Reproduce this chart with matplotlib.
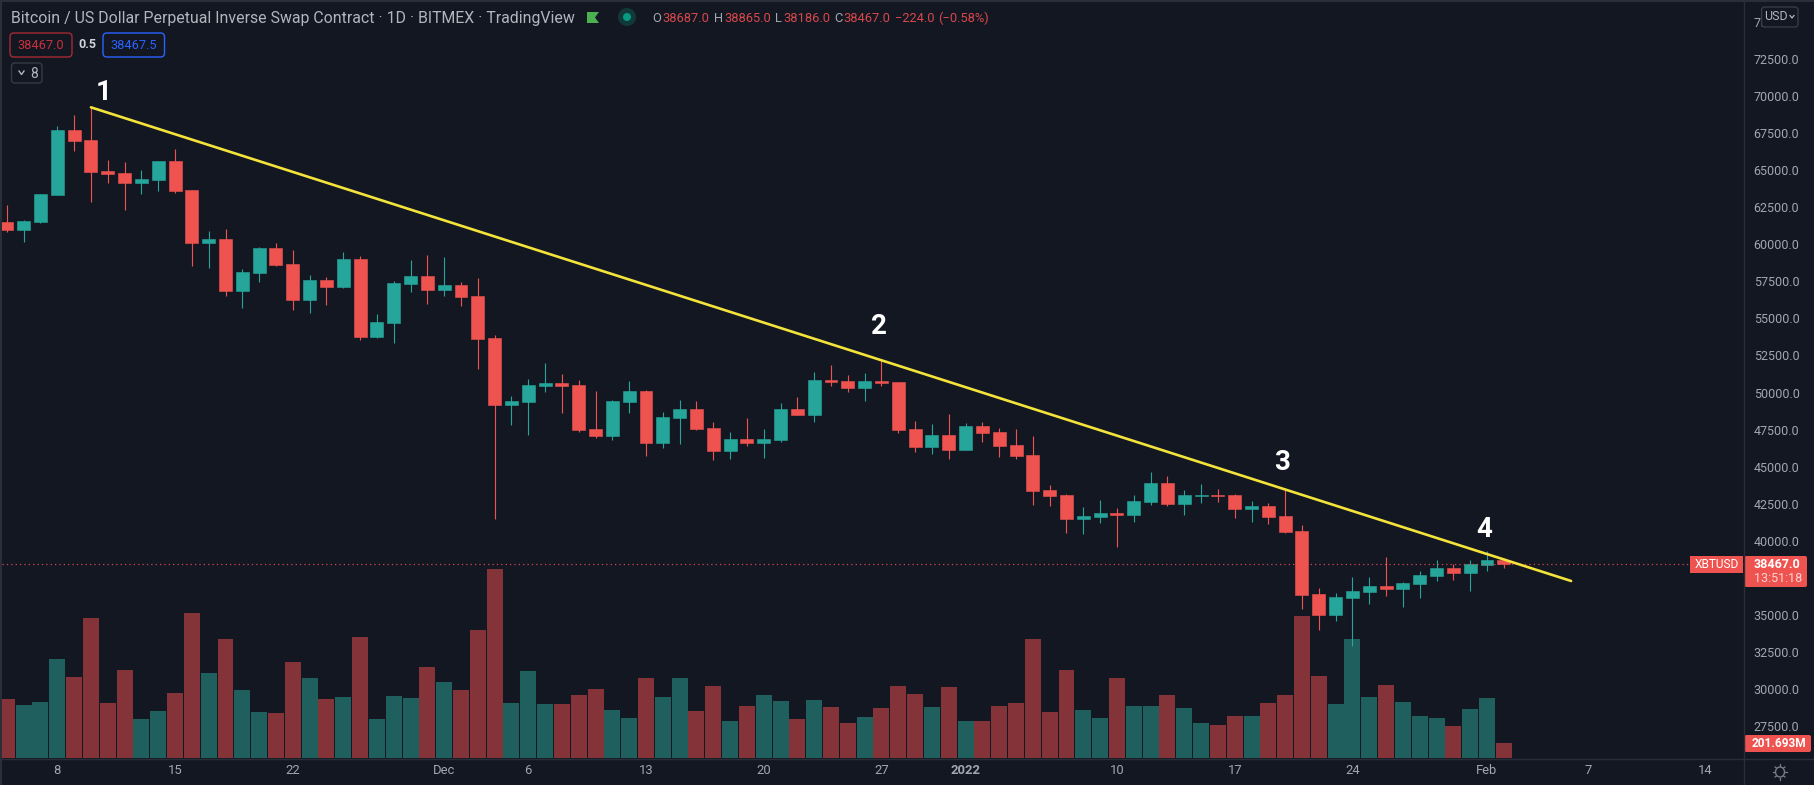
"""
plot.py - BITMEX XBTUSD daily candles with volume and a falling trendline
"""
import matplotlib
matplotlib.use("Agg")
import matplotlib.pyplot as plt
from matplotlib.patches import FancyBboxPatch, Polygon, Ellipse, Rectangle

W, H = 1815, 785
plt.rcParams["font.family"] = ["Roboto", "DejaVu Sans"]

# ── Data: day 0 is 8 Nov 2021 ─────────────────────────────────────
days = list(range(-3, 87))

opens = [61488, 60949, 61488, 63329, 67687, 67013, 64924, 64789, 64116, 64318,
         65598, 63644, 60073, 60342, 56838, 58051, 59736, 58657, 56232, 57580,
         57108, 58994, 53761, 54682, 57310, 57849, 56906, 57243, 56502, 53674,
         49160, 49362, 50440, 50642, 50507, 47543, 47071, 49362, 50103, 46599,
         48284, 48890, 47610, 46060, 46869, 46599, 46801, 48890, 48486, 50844,
         50777, 50305, 50777, 50709, 47543, 46330, 47138, 46128, 47745, 47340,
         46464, 45791, 43432, 43096, 41478, 41613, 41882, 41748, 42624, 43904,
         42489, 43051, 43096, 43096, 42152, 42354, 41680, 40670, 36425, 35010,
         36156, 36560, 36964, 36762, 37099, 37638, 38177, 37840, 38379, 38687]
closes = [60949, 61555, 63374, 67687, 66945, 64857, 64722, 64116, 64385, 65598,
          63577, 60073, 60342, 56838, 58119, 59736, 58590, 56232, 57580, 57108,
          58994, 53761, 54750, 57378, 57849, 56906, 57243, 56434, 53604, 49160,
          49429, 50507, 50642, 50440, 47475, 47071, 49429, 50103, 46599, 48351,
          48890, 47543, 46060, 46869, 46599, 46869, 48890, 48486, 50844, 50709,
          50305, 50777, 50642, 47475, 46330, 47138, 46128, 47745, 47273, 46397,
          45723, 43365, 43028, 41478, 41680, 41882, 41748, 42691, 43904, 42489,
          43096, 43096, 43051, 42152, 42354, 41613, 40602, 36358, 35010, 36223,
          36627, 36964, 36762, 37166, 37705, 38177, 37840, 38446, 38716, 38467]
highs = [62633, 61622, 63374, 67956, 68697, 69214, 65665, 65508, 64991, 65598,
         66406, 63644, 60881, 61016, 58298, 59826, 60073, 59601, 57916, 57759,
         59466, 59174, 55288, 57512, 58927, 59264, 59129, 57445, 57714, 53876,
         49766, 50912, 51990, 51248, 50844, 50103, 49497, 50777, 50170, 48666,
         49497, 49429, 48014, 47340, 48284, 47543, 49295, 49699, 51383, 51855,
         51181, 51316, 52192, 50709, 48082, 47880, 48553, 47947, 48014, 47610,
         47543, 47071, 43769, 43163, 42287, 42759, 42220, 43096, 44645, 44376,
         43432, 43837, 43500, 43163, 42691, 42557, 43500, 41074, 36829, 36493,
         37571, 37571, 38918, 37233, 37975, 38716, 38446, 38716, 39322, 38865]
lows = [60836, 60163, 61443, 63329, 66272, 62858, 64138, 62296, 63397, 63577,
        63464, 58523, 58411, 56524, 55715, 57467, 58523, 55558, 55379, 55895,
        57041, 53560, 53694, 53357, 56771, 55962, 56502, 55828, 51583, 41478,
        47812, 47138, 50036, 48621, 47340, 46936, 46801, 48621, 45723, 46262,
        46532, 47475, 45454, 45521, 46397, 45589, 46667, 48486, 48014, 50440,
        50036, 49429, 50440, 47273, 45993, 45858, 45521, 46128, 46667, 45656,
        45521, 42422, 42354, 40535, 40468, 41209, 39592, 41276, 42422, 42354,
        41748, 42557, 42624, 41546, 41276, 41141, 40535, 35414, 33999, 34605,
        32921, 35751, 36290, 35549, 36155, 37301, 37368, 36627, 37975, 38186]

# volume, millions of contracts
volumes = [793, 713, 753, 1331, 1089, 1882, 740, 1183, 524, 632,
           874, 1950, 1143, 1600, 914, 619, 605, 1291, 1076, 793,
           820, 1627, 524, 834, 807, 1224, 1022, 914, 1721, 2541,
           740, 1170, 726, 726, 847, 928, 645, 538, 1076, 820,
           1076, 632, 968, 497, 699, 847, 766, 524, 780, 686,
           471, 551, 672, 968, 861, 686, 955, 497, 497, 699,
           740, 1600, 619, 1183, 645, 538, 1076, 699, 699, 847,
           672, 471, 444, 565, 565, 740, 847, 1909, 1103, 726,
           1600, 820, 982, 753, 565, 538, 430, 659, 807, 201.693]

trend_days = [2, 90]
trend_prices = [69218, 37300]
last_price = 38467

price_ticks = [27500 + 2500 * i for i in range(20)]
date_ticks = [0, 7, 14, 23, 28, 35, 42, 49, 54, 63, 70, 77, 85, 91, 98]
date_labels = ["8", "15", "22", "Dec", "6", "13", "20", "27", "2022",
               "10", "17", "24", "Feb", "7", "14"]

# ── Colours ───────────────────────────────────────────────────────
BG = "#131722"
LINE = "#2a2e39"
GREY = "#a3a6af"
UP = "#26a69a"
DOWN = "#ef5350"
UP_VOL = "#1f5f5e"
DOWN_VOL = "#843438"

# ── Layout: pane runs from x=2 to 1744, y=0 to 758 in pixels ──────
fig = plt.figure(figsize=(W / 100, H / 100), dpi=100, facecolor=BG)
rect = [2 / W, 1 - 758 / H, 1742 / W, 758 / H]

ax_vol = fig.add_axes(rect, facecolor=BG)
ax = fig.add_axes(rect, facecolor="none")
x_range = (-3.288, 100.28)
ax_vol.set_xlim(x_range)
ax_vol.set_ylim(0, 10190)
ax_vol.axis("off")

ax.set_xlim(x_range)
ax.set_ylim(25371, 76449)
for spine in ax.spines.values():
    spine.set_visible(False)

# ── Volume ────────────────────────────────────────────────────────
vol_colors = [UP_VOL if c >= o else DOWN_VOL for o, c in zip(opens, closes)]
ax_vol.bar(days, volumes, width=0.95, color=vol_colors, linewidth=0)

# ── Candles ───────────────────────────────────────────────────────
colors = [UP if c >= o else DOWN for o, c in zip(opens, closes)]
ax.vlines(days, lows, highs, colors=colors, linewidth=0.8, zorder=2)
ax.bar(days, [c - o for o, c in zip(opens, closes)], bottom=opens, width=0.77,
       color=colors, edgecolor=colors, linewidth=0.4, zorder=3)

ax.axhline(last_price, color=DOWN, lw=0.9, ls=(0, (1, 2.5)), alpha=0.85, zorder=4)
ax.plot(trend_days, trend_prices, color="#f3e33b", lw=1.9, zorder=5,
        solid_capstyle="round")

# ── Axes ticks ────────────────────────────────────────────────────
ax.yaxis.tick_right()
ax.set_yticks(price_ticks)
ax.set_yticklabels([f"{p:.1f}" for p in price_ticks], color=GREY, fontsize=9, ha="left")
ax.set_xticks(date_ticks)
ax.set_xticklabels(date_labels, color=GREY, fontsize=9.4)
ax.tick_params(axis="y", length=0, pad=7)
ax.tick_params(axis="x", length=0, pad=4.5)
ax.get_xticklabels()[date_labels.index("2022")].set_fontweight("bold")

# ── Overlay for the window chrome, in pixel coordinates ───────────
ui = fig.add_axes([0, 0, 1, 1], facecolor="none", zorder=10)
ui.set_xlim(0, W)
ui.set_ylim(H, 0)
ui.axis("off")

ui.plot([1744, 1744], [0, H], color=LINE, lw=1)
ui.plot([2, W], [758.5, 758.5], color=LINE, lw=1)
ui.plot([0, W], [0.5, 0.5], color=LINE, lw=1.5)
ui.add_patch(Rectangle((0, 0), 2, H, color=LINE, lw=0))


def label(x, y, text, color=GREY, size=9, ha="left", **kw):
    return ui.text(x, y, text, color=color, fontsize=size, ha=ha, va="center", **kw)


def box(x0, y0, x1, y1, face=BG, edge=LINE, lw=1.0, r=3):
    ui.add_patch(FancyBboxPatch((x0 + r, y0 + r), x1 - x0 - 2 * r, y1 - y0 - 2 * r,
                                boxstyle=f"round,pad={r},rounding_size={r}",
                                facecolor=face, edgecolor=edge, linewidth=lw))


# Header
label(11, 18, "Bitcoin / US Dollar Perpetual Inverse Swap Contract · 1D · BITMEX · TradingView",
      color="#b2b5be", size=11.4)
ui.add_patch(Polygon([(587, 12), (599, 12), (595, 17.5), (599, 23), (587, 23)],
                     facecolor="#4caf50", edgecolor="none"))
ui.add_patch(Ellipse((627, 17), 18, 18, facecolor="#12393a", edgecolor="none"))
ui.add_patch(Ellipse((627, 17), 8, 8, facecolor="#089981", edgecolor="none"))

OHLC_RED = "#d8484b"
for x, text, col in [(652, "O", GREY), (662.5, "38687.0", OHLC_RED),
                     (714, "H", GREY), (724, "38865.0", OHLC_RED),
                     (775, "L", GREY), (783, "38186.0", OHLC_RED),
                     (834, "C", GREY), (843, "38467.0", OHLC_RED),
                     (895, "\u2212224.0", OHLC_RED), (938.5, "(\u22120.58%)", OHLC_RED)]:
    label(x, 18.5, text, color=col, size=9.3)

# Bid / ask buttons
box(10, 33, 72, 57, edge="#a52a33", r=4)
label(41, 45.5, "38467.0", color="#c9303a", size=9.2, ha="center")
label(87, 45, "0.5", color="#d1d4dc", size=9, ha="center", fontweight="bold")
box(103, 33, 164.5, 57, edge="#2962ff", r=4)
label(134, 45.5, "38467.5", color="#2962ff", size=9.2, ha="center")
box(11.5, 63, 42, 83, edge="#363a45", r=3)
ui.plot([19, 21.5, 24], [71, 74.5, 71], color="#b2b5be", lw=1)
label(34, 73.5, "8", color="#b2b5be", size=10, ha="center")

# USD button covers the 75000 label
box(1761.6, 7, 1798, 27, edge="#363a45", r=3)
label(1776, 16.7, "USD", color="#b2b5be", size=9, ha="center")
ui.plot([1790, 1792, 1794], [15.5, 18, 15.5], color="#b2b5be", lw=0.9)

# Trendline touch points
for x, y, text in [(103.6, 92.5, "1"), (879, 326.5, "2"), (1282, 463, "3"), (1484, 529.5, "4")]:
    label(x, y, text, color="white", size=20, ha="center", fontweight="bold")

# Price scale tags
ui.add_patch(Rectangle((1690, 556), 53, 17, facecolor=DOWN, edgecolor="none"))
label(1716.5, 564.8, "XBTUSD", color="white", size=8.6, ha="center")
box(1744.5, 556, 1807, 587, face=DOWN, edge=DOWN, lw=0, r=2)
label(1753.7, 564.8, "38467.0", color="white", size=9, fontweight="bold")
label(1753.7, 578.8, "13:51:18", color="#fbd5d4", size=9)
box(1744.5, 735, 1811, 752, face=DOWN, edge=DOWN, lw=0, r=2)
label(1752, 743.5, "201.693M", color="white", size=8.6, fontweight="bold")

# Settings gear
ui.add_patch(Ellipse((1780, 772), 9, 10, facecolor="none", edgecolor="#787b86", lw=1))
for x0, y0, x1, y1 in [(1780, 764, 1780, 766), (1780, 778, 1780, 780),
                       (1773, 772, 1775, 772), (1785, 772, 1787, 772),
                       (1775, 767, 1776.5, 768), (1783.5, 776, 1785, 777),
                       (1775, 777, 1776.5, 776), (1783.5, 768, 1785, 767)]:
    ui.plot([x0, x1], [y0, y1], color="#787b86", lw=0.9)

fig.savefig("out.png", dpi=100, facecolor=BG)
